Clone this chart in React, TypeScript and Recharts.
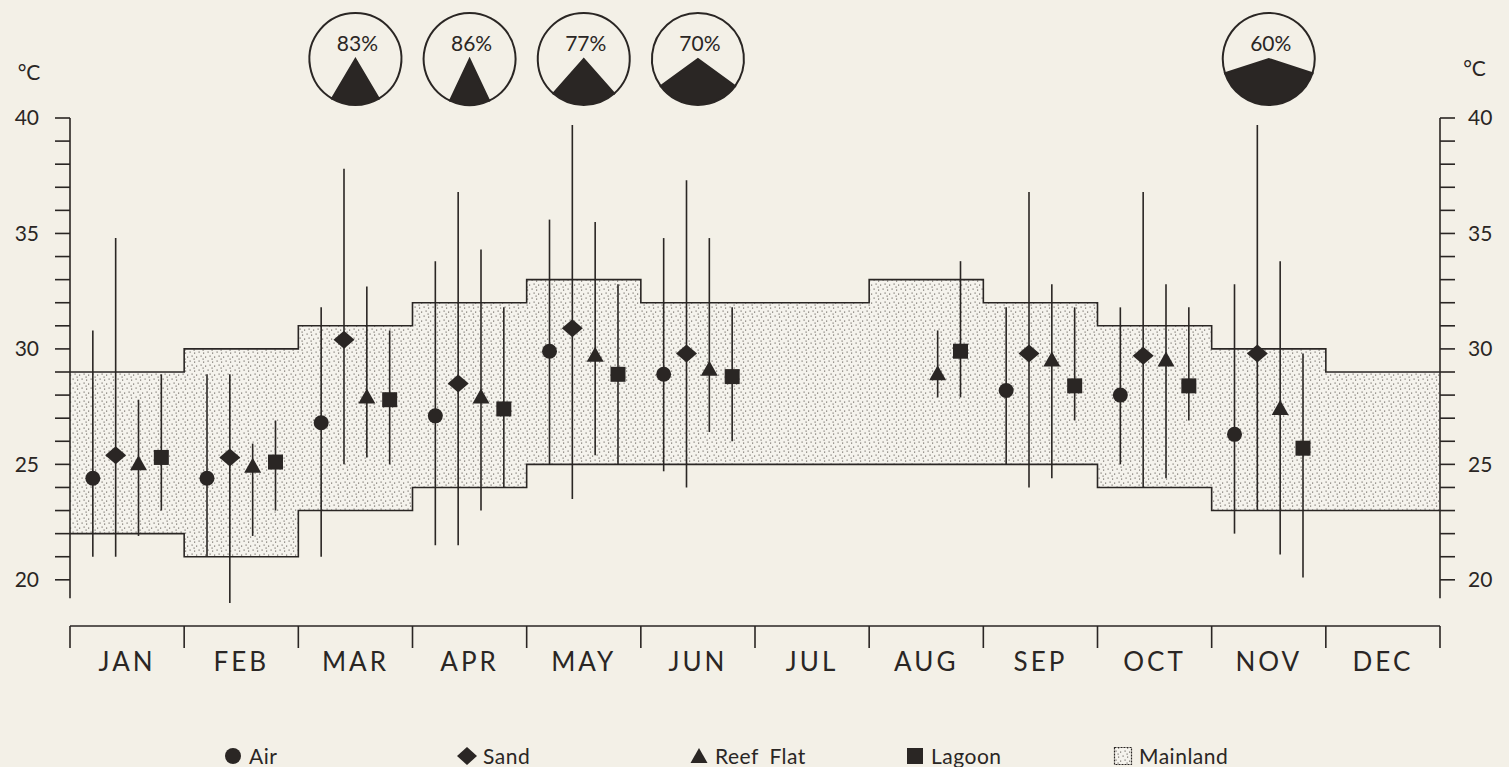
import React from 'react';
import {
  ComposedChart,
  Area,
  Scatter,
  ErrorBar,
  XAxis,
  YAxis,
  ReferenceLine,
  Legend,
  PieChart,
  Pie,
  Cell,
} from 'recharts';

const MONTHS = ['JAN', 'FEB', 'MAR', 'APR', 'MAY', 'JUN', 'JUL', 'AUG', 'SEP', 'OCT', 'NOV', 'DEC'];

// Mainland monthly range (stippled band)
const MAINLAND_LOW = [22, 21, 23, 24, 25, 25, 25, 25, 25, 24, 23, 23];
const MAINLAND_HIGH = [29, 30, 31, 32, 33, 32, 32, 33, 32, 31, 30, 29];

// Mean, min, max per month (null = no reading)
const AIR = [24.4, 24.4, 26.8, 27.1, 29.9, 28.9, null, null, 28.2, 28.0, 26.3, null];
const AIR_MIN = [21, 21, 21, 21.5, 25, 24.7, null, null, 25, 25, 22, null];
const AIR_MAX = [30.8, 28.9, 31.8, 33.8, 35.6, 34.8, null, null, 31.8, 31.8, 32.8, null];

const SAND = [25.4, 25.3, 30.4, 28.5, 30.9, 29.8, null, null, 29.8, 29.7, 29.8, null];
const SAND_MIN = [21, 19, 25, 21.5, 23.5, 24, null, null, 24, 24, 23, null];
const SAND_MAX = [34.8, 28.9, 37.8, 36.8, 39.7, 37.3, null, null, 36.8, 36.8, 39.7, null];

const REEF = [25.0, 24.9, 27.9, 27.9, 29.7, 29.1, null, 28.9, 29.5, 29.5, 27.4, null];
const REEF_MIN = [21.9, 21.9, 25.3, 23, 25.4, 26.4, null, 27.9, 24.4, 24.4, 21.1, null];
const REEF_MAX = [27.8, 25.9, 32.7, 34.3, 35.5, 34.8, null, 30.8, 32.8, 32.8, 33.8, null];

const LAGOON = [25.3, 25.1, 27.8, 27.4, 28.9, 28.8, null, 29.9, 28.4, 28.4, 25.7, null];
const LAGOON_MIN = [23, 23, 25, 24, 25, 26, null, 27.9, 26.9, 26.9, 20.1, null];
const LAGOON_MAX = [28.9, 26.9, 30.8, 31.8, 32.8, 31.8, null, 33.8, 31.8, 31.8, 29.8, null];

// Relative humidity icons above the chart
const HUMIDITY_MONTHS = [2, 3, 4, 5, 10];
const HUMIDITY = [83, 86, 77, 70, 60];

const Y_TICKS = [20, 21, 22, 23, 24, 25, 26, 27, 28, 29, 30, 31, 32, 33, 34, 35, 36, 37, 38, 39, 40];
const X_BOUNDS = [0, 1, 2, 3, 4, 5, 6, 7, 8, 9, 10, 11, 12];
const X_CENTERS = [0.5, 1.5, 2.5, 3.5, 4.5, 5.5, 6.5, 7.5, 8.5, 9.5, 10.5, 11.5];

const INK = '#2a2624';
const BG = '#f3f0e7';
const FONT = 'Lato, "Noto Sans", sans-serif';
const W = 1509;
const H = 767;
const PLOT_LEFT = 70;
const PLOT_RIGHT = 1440;
const MONTH_W = (PLOT_RIGHT - PLOT_LEFT) / 12;

const mainland = [
  ...MONTHS.map((_, i) => ({ x: i, range: [MAINLAND_LOW[i], MAINLAND_HIGH[i]] })),
  { x: 12, range: [MAINLAND_LOW[11], MAINLAND_HIGH[11]] },
];

function points(mean: (number | null)[], min: (number | null)[], max: (number | null)[], offset: number) {
  return mean.flatMap((v, i) =>
    v == null ? [] : [{ x: i + offset, y: v, err: [v - (min[i] as number), (max[i] as number) - v] }],
  );
}

const airPts = points(AIR, AIR_MIN, AIR_MAX, 0.2);
const sandPts = points(SAND, SAND_MIN, SAND_MAX, 0.4);
const reefPts = points(REEF, REEF_MIN, REEF_MAX, 0.6);
const lagoonPts = points(LAGOON, LAGOON_MIN, LAGOON_MAX, 0.8);

const CircleMark = (p: any) => <circle cx={p.cx} cy={p.cy} r={7.5} fill={INK} />;
const DiamondMark = (p: any) => (
  <polygon
    points={`${p.cx},${p.cy - 9} ${p.cx + 10.5},${p.cy} ${p.cx},${p.cy + 9} ${p.cx - 10.5},${p.cy}`}
    fill={INK}
  />
);
const TriangleMark = (p: any) => (
  <polygon points={`${p.cx},${p.cy - 9} ${p.cx + 8.5},${p.cy + 6} ${p.cx - 8.5},${p.cy + 6}`} fill={INK} />
);
const SquareMark = (p: any) => <rect x={p.cx - 7.5} y={p.cy - 7.5} width={15} height={15} fill={INK} />;

const StippleDefs = ({ id }: { id: string }) => (
  <defs>
    <pattern id={id} width="9" height="9" patternUnits="userSpaceOnUse">
      <rect width="9" height="9" fill="#f5f3ed" />
      <rect x="0.5" y="0.5" width="1.2" height="1.2" fill="#77726c" />
      <rect x="5" y="1.5" width="1.2" height="1.2" fill="#77726c" />
      <rect x="2.5" y="4.5" width="1.2" height="1.2" fill="#77726c" />
      <rect x="7" y="5.5" width="1.2" height="1.2" fill="#77726c" />
      <rect x="4.5" y="7.5" width="1.2" height="1.2" fill="#77726c" />
    </pattern>
  </defs>
);

const LEGEND_LEFT = [223, 457, 689, 905, 1113];
const LEGEND_ITEMS = ['Air', 'Sand', 'Reef Flat', 'Lagoon', 'Mainland'];

function legendIcon(k: number) {
  if (k === 0) return <circle cx={10} cy={10} r={8} fill={INK} />;
  if (k === 1) return <polygon points="10,1 20,10 10,19 0,10" fill={INK} />;
  if (k === 2) return <polygon points="10,2 18.5,17 1.5,17" fill={INK} />;
  if (k === 3) return <rect x={2} y={2} width={16} height={16} fill={INK} />;
  return (
    <g>
      <StippleDefs id="stippleLegend" />
      <rect x={1.5} y={1.5} width={17} height={17} fill="url(#stippleLegend)" stroke={INK} strokeWidth={1.2} strokeDasharray="2 1" />
    </g>
  );
}

const renderLegend = () => (
  <div style={{ position: 'relative', height: 40, fontFamily: FONT, fontSize: 21, color: INK }}>
    {LEGEND_ITEMS.map((label, k) => (
      <div
        key={label}
        style={{ position: 'absolute', left: LEGEND_LEFT[k], top: 17, height: 24, display: 'flex', alignItems: 'center' }}
      >
        <svg width={20} height={20}>{legendIcon(k)}</svg>
        <span style={{ marginLeft: 6, wordSpacing: 5, letterSpacing: 0.5, whiteSpace: 'nowrap', lineHeight: '24px' }}>
          {label}
        </span>
      </div>
    ))}
  </div>
);

const pctLabel = (p: number) => (props: any) =>
  props.index === 1 ? (
    <text x={props.cx + 2} y={props.cy - 8} textAnchor="middle" fontSize={21} fontFamily={FONT} fill={INK}>
      {`${p}%`}
    </text>
  ) : null;

const axisTick = { fill: INK, fontSize: 21, fontFamily: FONT };
const lineStyle = { stroke: INK, strokeWidth: 1.6 };

export default function App() {
  return (
    <div style={{ position: 'relative', width: W, height: H, background: BG }}>
      <style>{`body{margin:0;background:${BG}}`}</style>
      <ComposedChart width={W} height={H} data={mainland} margin={{ top: 118, right: 0, bottom: 0, left: 0 }}>
        <StippleDefs id="stipple" />
        <XAxis
          xAxisId="a"
          dataKey="x"
          type="number"
          domain={[0, 12]}
          allowDataOverflow
          ticks={X_BOUNDS}
          tickFormatter={() => ''}
          tickSize={22}
          height={22}
          axisLine={lineStyle}
          tickLine={lineStyle}
        />
        <XAxis
          xAxisId="b"
          type="number"
          domain={[0, 12]}
          allowDataOverflow
          ticks={X_CENTERS}
          tickFormatter={(v: number) => MONTHS[Math.floor(v)]}
          axisLine={false}
          tickLine={false}
          tickSize={0}
          tickMargin={5}
          height={79}
          tick={{ fill: INK, fontSize: 26, fontFamily: FONT, letterSpacing: 3 }}
          interval={0}
        />
        <YAxis
          yAxisId="l"
          type="number"
          domain={[18, 40]}
          allowDataOverflow
          ticks={Y_TICKS}
          interval={0}
          width={70}
          tickSize={15}
          tickMargin={16}
          axisLine={false}
          tickLine={lineStyle}
          tick={axisTick}
          tickFormatter={(v: number) => (v % 5 === 0 ? String(v) : '')}
          label={{ value: '°C', position: 'top', offset: 38, fill: INK, fontSize: 21, fontFamily: FONT, dx: -6 }}
        />
        <YAxis
          yAxisId="r"
          orientation="right"
          type="number"
          domain={[18, 40]}
          allowDataOverflow
          ticks={Y_TICKS}
          interval={0}
          width={69}
          tickSize={15}
          tickMargin={13}
          axisLine={false}
          tickLine={lineStyle}
          tick={axisTick}
          tickFormatter={(v: number) => (v % 5 === 0 ? String(v) : '')}
          label={{ value: '°C', position: 'top', offset: 42, fill: INK, fontSize: 21, fontFamily: FONT }}
        />
        <Legend verticalAlign="bottom" height={40} content={renderLegend} />
        <Area
          xAxisId="a"
          yAxisId="l"
          dataKey="range"
          type="stepAfter"
          fill="url(#stipple)"
          fillOpacity={1}
          stroke={INK}
          strokeWidth={1.6}
          dot={false}
          activeDot={false}
          isAnimationActive={false}
        />
        <ReferenceLine
          xAxisId="a"
          yAxisId="l"
          segment={[{ x: 0, y: 19.2 }, { x: 0, y: 40 }]}
          stroke={INK}
          strokeWidth={1.6}
        />
        <ReferenceLine
          xAxisId="a"
          yAxisId="l"
          segment={[{ x: 12, y: 19.2 }, { x: 12, y: 40 }]}
          stroke={INK}
          strokeWidth={1.6}
        />
        <Scatter xAxisId="a" yAxisId="l" data={airPts} dataKey="y" shape={CircleMark} isAnimationActive={false}>
          <ErrorBar dataKey="err" direction="y" width={0} stroke={INK} strokeWidth={1.6} />
        </Scatter>
        <Scatter xAxisId="a" yAxisId="l" data={sandPts} dataKey="y" shape={DiamondMark} isAnimationActive={false}>
          <ErrorBar dataKey="err" direction="y" width={0} stroke={INK} strokeWidth={1.6} />
        </Scatter>
        <Scatter xAxisId="a" yAxisId="l" data={reefPts} dataKey="y" shape={TriangleMark} isAnimationActive={false}>
          <ErrorBar dataKey="err" direction="y" width={0} stroke={INK} strokeWidth={1.6} />
        </Scatter>
        <Scatter xAxisId="a" yAxisId="l" data={lagoonPts} dataKey="y" shape={SquareMark} isAnimationActive={false}>
          <ErrorBar dataKey="err" direction="y" width={0} stroke={INK} strokeWidth={1.6} />
        </Scatter>
      </ComposedChart>
      <div style={{ position: 'absolute', top: 0, left: 0, pointerEvents: 'none' }}>
        <PieChart width={W} height={112} margin={{ top: 0, right: 0, bottom: 0, left: 0 }}>
          {HUMIDITY.map((p, k) => {
            const dark = (100 - p) * 3.6;
            const start = -90 - dark / 2;
            return (
              <Pie
                key={p + '-' + k}
                data={[
                  { name: 'dry', value: 100 - p },
                  { name: 'humid', value: p },
                ]}
                dataKey="value"
                cx={PLOT_LEFT + (HUMIDITY_MONTHS[k] + 0.5) * MONTH_W}
                cy={59}
                innerRadius={0}
                outerRadius={46}
                startAngle={start}
                endAngle={start + 360}
                stroke={INK}
                strokeWidth={2}
                label={pctLabel(p)}
                labelLine={false}
                isAnimationActive={false}
              >
                <Cell fill={INK} />
                <Cell fill={BG} />
              </Pie>
            );
          })}
        </PieChart>
      </div>
    </div>
  );
}
